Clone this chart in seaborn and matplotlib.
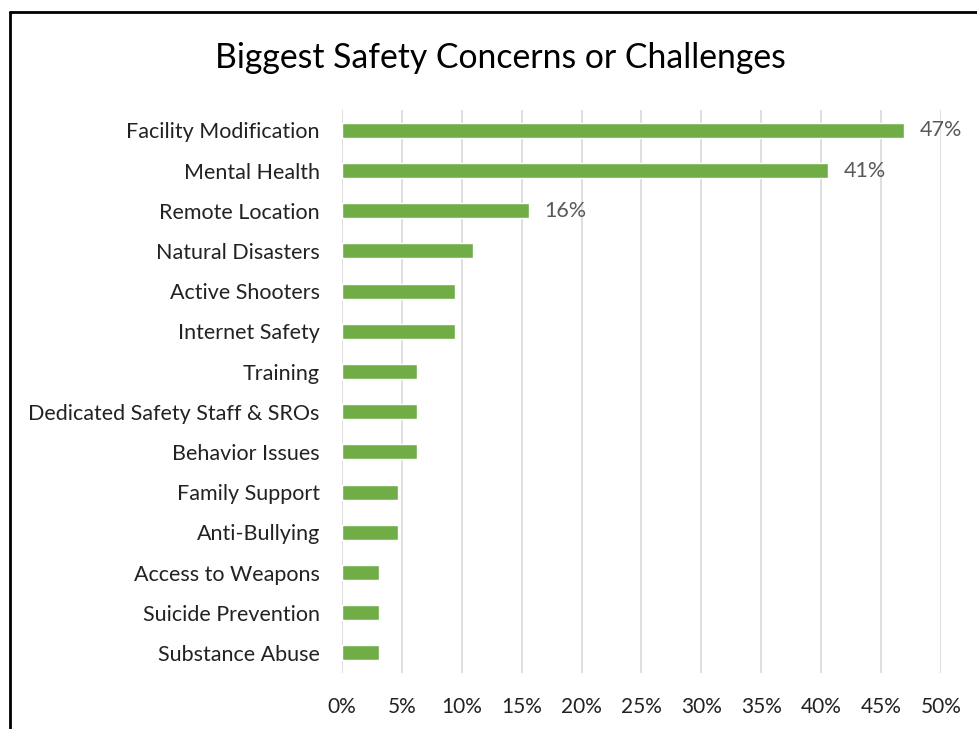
import pandas as pd
import matplotlib.pyplot as plt
import seaborn as sns
from matplotlib.lines import Line2D

# survey categories, top to bottom
concerns = ['Facility Modification', 'Mental Health', 'Remote Location',
            'Natural Disasters', 'Active Shooters', 'Internet Safety',
            'Training', 'Dedicated Safety Staff & SROs', 'Behavior Issues',
            'Family Support', 'Anti-Bullying', 'Access to Weapons',
            'Suicide Prevention', 'Substance Abuse']

# share of respondents (%)
shares = [46.9, 40.6, 15.6, 10.9, 9.4, 9.4, 6.25, 6.25, 6.25,
          4.7, 4.7, 3.1, 3.1, 3.1]

# only the top three bars carry a label
labels = ['47%', '41%', '16%']

data = pd.DataFrame({'Concern': concerns, 'Share': shares})

sns.set_style('white')
plt.rcParams['font.family'] = ['Lato', 'DejaVu Sans']

fig = plt.figure(figsize=(9.77, 7.29), dpi=100)
ax = fig.add_axes([0.350, 0.0768, 0.613, 0.772])

sns.barplot(data=data, x='Share', y='Concern', orient='h',
            color='#70AD47', saturation=1, width=0.37, ax=ax)

ax.set_xlim(0, 50)
ax.set_xticks(range(0, 51, 5))
ax.set_xticklabels([f'{t}%' for t in range(0, 51, 5)], fontsize=15, color='#222222')
ax.tick_params(axis='y', labelsize=15.5, labelcolor='#222222', length=0, pad=16)
ax.tick_params(axis='x', length=0, pad=17)
ax.set_xlabel('')
ax.set_ylabel('')
ax.grid(axis='x', color='#D9D9D9', linewidth=1.2)
ax.set_axisbelow(True)
for s in ax.spines.values():
    s.set_visible(False)

for i, lab in enumerate(labels):
    ax.text(shares[i] + 1.3, i, lab, va='center', ha='left',
            fontsize=15.5, color='#595959')

fig.text(0.512, 0.920, 'Biggest Safety Concerns or Challenges',
         ha='center', va='center', fontsize=24.3, color='black')

# chart frame edge (left and top only visible)
fig.add_artist(Line2D([0.0107, 0.0107], [0, 0.984], color='black', lw=2))
fig.add_artist(Line2D([0.0107, 1], [0.984, 0.984], color='black', lw=2))

fig.savefig('out.png', dpi=100)
